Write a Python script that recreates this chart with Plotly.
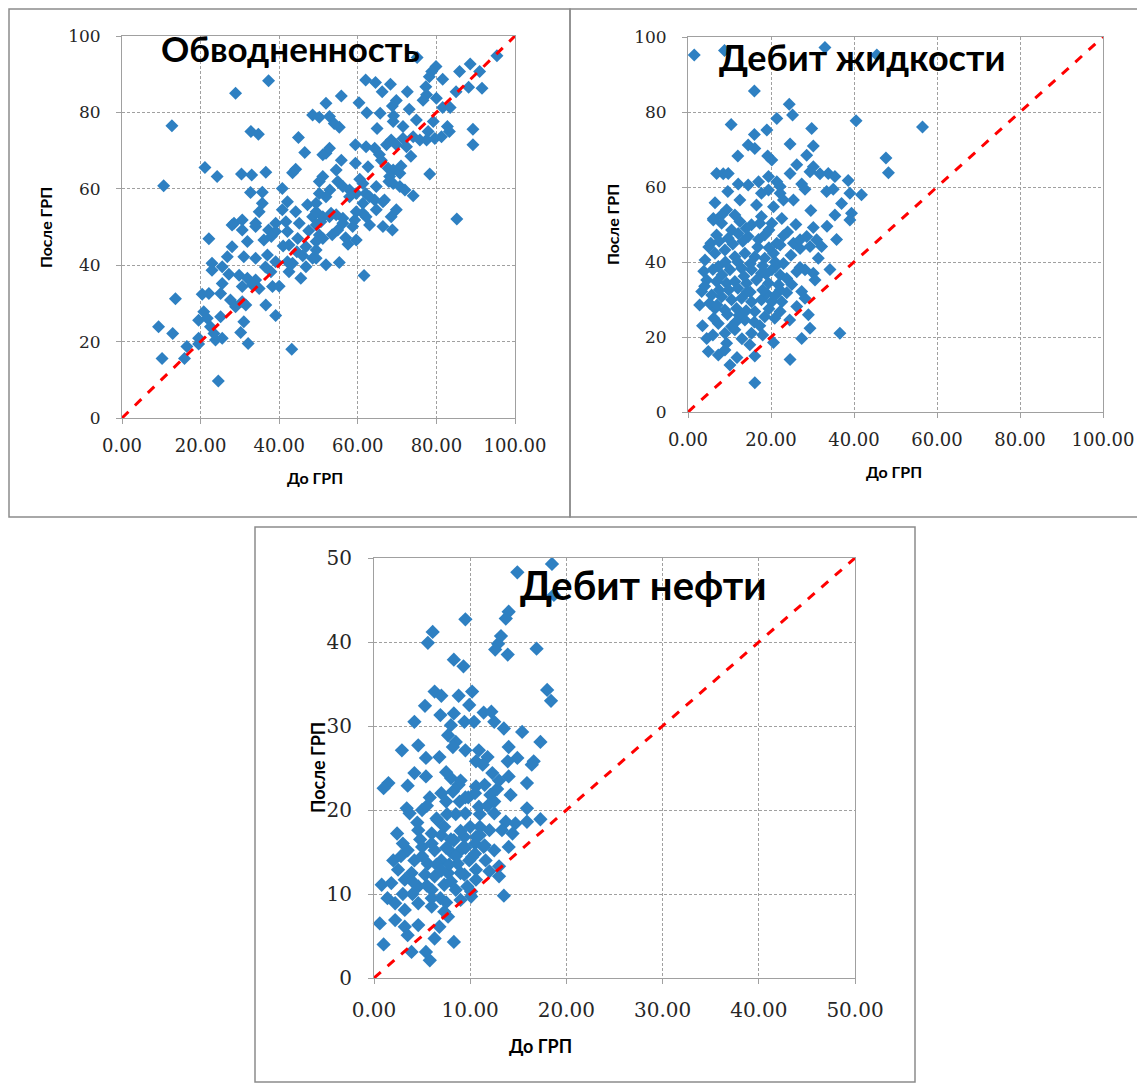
import plotly.graph_objects as go

# --- Обводненность: до / после ГРП ---
x1 = [37.3, 28.9, 12.7, 32.8, 34.7, 44.9, 46.5, 21.1, 24.2, 30.4, 33.0, 36.6, 43.4, 44.2, 10.6, 40.8, 32.7, 35.7, 48.5, 50.2,
      28.5, 30.6, 34.0, 34.9, 35.7, 42.1, 40.8, 44.2, 47.2, 39.1, 41.7, 45.1, 48.5, 49.4,
      95.4, 75.1, 88.6, 85.9, 91.0, 79.9, 78.8, 81.6, 78.2, 62.0, 64.5, 68.3, 88.2, 91.6, 85.0, 77.3, 77.5, 72.6, 66.2, 55.8,
      51.9, 60.3, 69.8, 76.6, 80.0, 81.6, 83.5, 68.8, 65.7, 69.1, 73.1, 62.3, 52.8, 54.0, 55.3, 64.9, 69.0, 71.5, 74.9, 79.2,
      82.8, 83.3, 77.9, 89.3, 89.3,
      74.1, 75.8, 77.5, 79.6, 81.3, 71.5, 68.5, 67.3, 69.8, 72.4, 62.1, 64.3, 59.4, 51.9, 51.1, 52.8, 66.0, 62.6, 59.4, 55.8,
      54.5, 51.1, 50.2, 52.9, 54.9, 56.2, 57.9, 59.6, 61.3, 67.7, 69.0, 70.7, 68.1, 69.0, 70.7, 72.0, 74.1, 78.3, 67.9, 64.7,
      64.3, 66.4, 69.8, 68.5, 61.3, 59.2, 56.2, 54.5, 53.2, 51.1, 49.4, 57.9, 62.0, 63.0, 85.2,
      50.2, 51.9, 49.4, 61.3, 59.6, 64.7, 66.8, 62.1, 56.2, 52.8, 50.6, 58.7, 66.4,
      50.2, 51.1, 54.9, 56.9, 59.6, 63.0, 68.8, 49.4, 49.4, 51.9, 55.3, 61.6,
      22.1, 28.0, 30.6, 34.0, 37.3, 28.0, 31.9, 36.1, 39.1, 42.1, 44.7, 42.5, 46.8, 49.4, 26.8, 31.0, 34.0, 37.0, 39.1, 22.9,
      22.9, 25.5, 27.2, 29.8, 31.9, 34.0, 37.9, 42.1, 43.4, 42.5, 46.8, 45.5, 48.5, 30.6, 33.2, 34.9, 38.3, 40.0, 25.5, 13.6,
      20.4, 22.1, 25.1, 27.6, 30.6, 31.5, 28.9, 36.6, 39.1, 20.8, 19.5, 21.7, 25.1, 31.0, 22.5, 30.2, 9.3, 12.9, 19.5, 23.8,
      25.5, 23.4, 16.5, 19.5, 10.2, 15.9, 32.1, 43.2, 24.5,
      41.0, 44.5, 47.5, 38.0, 36.5, 46.0, 53.5, 57.5, 60.5, 65.5, 71.0, 73.5]
y1 = [88.3, 85.0, 76.5, 75.0, 74.3, 73.4, 69.5, 65.6, 63.2, 63.9, 63.6, 64.3, 64.2, 65.1, 60.8, 60.1, 59.0, 59.1, 79.3, 78.7,
      51.0, 51.8, 51.0, 54.0, 56.2, 56.6, 54.5, 54.0, 55.8, 51.0, 51.4, 51.0, 52.7, 50.5,
      94.8, 94.4, 92.7, 90.7, 90.7, 92.0, 90.7, 88.7, 89.3, 88.5, 87.8, 87.4, 86.6, 86.3, 85.4, 86.7, 84.6, 85.4, 85.4, 84.3,
      82.4, 82.5, 83.1, 83.2, 83.7, 81.3, 81.3, 81.7, 79.8, 79.1, 80.8, 79.9, 78.9, 77.1, 76.1, 75.8, 77.6, 76.3, 78.0, 77.6,
      76.3, 75.0, 75.0, 75.6, 71.5,
      73.6, 72.8, 72.8, 73.2, 73.6, 73.2, 72.8, 71.5, 71.5, 71.0, 71.0, 70.6, 71.5, 69.3, 68.9, 70.6, 67.5, 65.8, 66.7, 67.5,
      64.9, 63.2, 61.9, 59.7, 61.9, 60.6, 59.7, 58.8, 61.4, 65.4, 64.9, 64.1, 63.2, 61.4, 60.6, 59.7, 58.2, 63.9, 61.9, 60.6,
      57.1, 56.6, 54.5, 52.7, 53.6, 51.8, 52.3, 53.2, 53.6, 52.7, 54.0, 57.9, 58.8, 57.9, 52.1,
      58.8, 57.9, 56.2, 56.2, 54.0, 54.5, 57.1, 52.7, 51.0, 52.7, 51.4, 50.1, 50.1,
      47.9, 47.0, 49.2, 47.2, 46.6, 50.5, 49.2, 44.0, 41.8, 40.1, 40.7, 37.3,
      46.9, 44.8, 49.2, 50.1, 49.2, 50.5, 46.2, 46.6, 48.8, 48.8, 47.0, 45.3, 44.8, 46.2, 42.2, 42.2, 41.8, 42.7, 40.9, 40.5,
      38.7, 39.6, 37.6, 37.4, 36.6, 36.1, 38.3, 40.9, 40.5, 38.3, 39.6, 36.6, 41.8, 34.4, 34.8, 33.9, 34.4, 34.5, 35.2, 31.2,
      32.4, 32.6, 32.6, 30.9, 30.4, 29.6, 29.1, 29.6, 26.8, 27.8, 25.6, 26.1, 26.5, 25.2, 23.9, 22.4, 23.9, 22.1, 20.9, 20.4,
      20.9, 22.1, 18.7, 19.4, 15.6, 15.6, 19.5, 18.0, 9.7,
      45.0, 43.5, 49.0, 47.5, 39.5, 42.5, 48.0, 45.5, 62.5, 69.0, 66.0, 68.5]

# --- Дебит жидкости ---
x2 = [1.5, 8.8, 16.0, 10.4, 21.4, 19.0, 16.0, 14.5, 16.1, 12.0, 19.2, 20.2, 6.9, 8.5, 9.7, 19.4, 21.4, 12.1, 14.5, 17.0,
      9.6, 12.5, 17.7, 19.4, 22.2, 6.5, 9.3, 11.3, 16.5, 20.6, 6.1, 8.1, 17.7, 22.6,
      33.0, 45.5, 24.4, 25.2, 40.5, 29.8, 24.6, 30.2, 28.6, 56.5, 26.2, 30.2, 29.4, 24.6, 31.8, 33.8, 35.4, 38.6, 47.7, 48.3,
      27.4, 28.2, 33.4, 35.0, 39.0, 41.8, 22.2, 23.0, 25.4, 37.0, 39.4, 29.6, 35.4,
      6.1, 8.1, 12.5, 15.3, 17.3, 20.2, 6.9, 9.7, 12.1, 14.5, 18.5, 21.4, 4.1, 6.5, 8.9, 11.3, 13.7, 16.1, 18.5, 20.6,
      7.3, 10.1, 12.9, 15.3, 17.7, 20.2, 4.5, 6.9, 9.3, 11.3, 14.1, 16.5, 19.4, 21.8, 3.3, 5.7, 8.1, 10.5, 12.9, 15.3,
      17.7, 20.2, 6.5, 8.9, 11.7, 16.1, 18.5, 20.9, 7.3, 10.5, 13.7, 8.9, 11.3, 15.3, 4.5, 9.3, 14.9, 20.6, 4.9, 7.3,
      8.9, 16.1, 10.1, 16.1,
      30.2, 39.0, 25.4, 27.0, 28.6, 31.0, 32.2, 27.0, 29.4, 35.8, 22.2, 31.4, 23.0, 26.2, 28.2, 30.2, 34.2, 22.2, 23.8, 30.6,
      22.2, 23.8, 27.4, 28.2, 22.6, 26.2, 29.0, 22.2, 29.4, 36.6, 27.4, 24.6,
      5.5, 10.8, 13.2, 16.8, 19.5, 3.8, 8.2, 13.5, 18.8, 5.2, 9.8, 14.2, 19.0, 12.3, 6.2, 17.3, 2.8, 24.0, 26.0, 33.5,
      21.0, 24.8, 13.0, 11.8, 18.0, 3.5, 6.0,
      5.0, 7.5, 10.5, 14.0, 17.0, 19.5, 23.0, 6.0, 9.0, 12.0, 15.0, 18.0, 21.0, 4.0, 7.5, 12.0, 15.0, 18.0, 21.0, 9.5,
      14.0, 19.5, 25.0, 27.0, 7.0, 11.5, 16.0, 24.5]
y2 = [95.2, 96.4, 85.6, 76.7, 78.3, 75.2, 74.0, 71.2, 70.3, 68.3, 68.3, 67.2, 63.6, 63.5, 63.6, 62.8, 61.4, 60.8, 60.5, 61.4,
      58.8, 56.5, 58.3, 59.2, 60.1, 55.8, 53.9, 52.5, 55.2, 54.7, 51.6, 52.5, 52.1, 51.6,
      97.2, 95.2, 82.1, 79.2, 77.7, 75.6, 71.5, 70.9, 68.5, 76.0, 65.9, 65.4, 64.1, 63.6, 63.5, 63.6, 62.8, 61.7, 67.7, 63.8,
      60.8, 59.4, 58.8, 59.4, 58.3, 57.9, 58.3, 56.5, 56.5, 55.6, 53.0, 53.7, 52.5,
      51.2, 50.3, 50.8, 49.9, 50.3, 50.3, 47.2, 46.3, 47.6, 46.8, 47.2, 45.0, 40.5, 42.3, 43.2, 41.4, 42.3, 41.4, 41.0, 42.3,
      38.8, 37.9, 38.3, 37.9, 37.0, 37.9, 35.2, 34.8, 34.3, 34.8, 34.3, 35.2, 34.3, 33.9, 32.1, 31.2, 30.7, 29.9, 30.3, 29.4,
      29.9, 29.4, 27.6, 27.2, 27.6, 26.8, 25.4, 25.0, 23.6, 22.8, 24.5, 21.0, 21.9, 21.0, 19.6, 18.3, 17.9, 18.5, 16.1, 15.2,
      16.5, 14.9, 12.5, 7.8,
      49.2, 51.2, 45.0, 45.9, 46.8, 45.9, 44.1, 43.6, 44.1, 46.0, 44.5, 41.0, 39.6, 37.4, 37.9, 37.0, 38.0, 36.5, 35.6, 35.2,
      32.5, 31.8, 32.1, 30.3, 29.4, 28.1, 25.9, 26.8, 22.3, 21.0, 19.6, 14.0,
      45.0, 44.8, 45.5, 44.0, 43.8, 37.5, 36.5, 36.2, 36.8, 29.0, 32.5, 32.0, 31.5, 25.8, 25.0, 23.0, 28.5, 48.0, 50.0, 49.5,
      38.7, 41.8, 19.5, 14.5, 20.5, 23.0, 20.5,
      44.0, 45.5, 48.5, 49.0, 46.0, 48.5, 47.0, 38.0, 40.0, 40.0, 39.5, 39.0, 40.0, 33.5, 32.5, 33.0, 32.0, 32.5, 31.0, 26.0,
      27.0, 27.5, 34.0, 38.5, 28.5, 24.0, 24.0, 24.5]

# --- Дебит нефти ---
x3 = [9.5, 6.1, 5.6, 8.3, 9.3, 6.3, 7.0, 8.8, 5.3, 6.9, 8.3, 4.2, 8.0, 9.4, 7.7, 8.5, 9.5, 2.9, 4.6, 5.4,
      6.8, 8.2,
      18.5, 14.9, 18.7, 14.0, 13.7, 13.2, 12.9, 12.6, 13.9, 16.9, 18.0, 18.4, 10.2, 9.9, 11.4, 12.2, 10.4, 12.5, 13.5, 15.4,
      17.3, 14.0, 10.9, 11.8, 14.9, 16.6, 10.6,
      4.2, 5.4, 1.5, 3.5, 1.0, 8.0, 7.0, 8.2, 8.9, 3.4, 3.7, 9.5, 2.4, 4.6, 6.0, 7.3, 8.3, 9.4, 3.5, 5.0,
      6.3, 8.0, 9.0, 4.2, 5.6, 7.0, 8.7, 9.9, 2.5, 3.9, 5.3, 6.3, 7.7, 9.4, 0.8, 1.8, 3.2, 4.6, 6.0, 7.3,
      8.5, 9.7, 2.2, 3.2, 4.6, 6.0, 7.3, 0.6, 2.2, 3.2, 4.6, 3.5, 6.3, 8.3, 1.0, 3.9, 5.4, 5.8, 6.8, 7.7,
      9.0, 10.1,
      11.3, 13.9, 16.4, 12.3, 14.0, 15.9, 10.6, 12.1, 14.2, 15.9, 10.9, 12.5, 17.3, 15.9, 13.7, 14.7, 12.0, 13.3, 14.4, 10.6,
      11.4, 12.5, 14.0, 10.2, 11.6, 13.0, 10.6, 12.0, 13.0, 10.6, 10.1, 13.5,
      4.8, 6.6, 7.6, 5.8, 8.8, 9.8, 11.0, 2.8, 4.0, 6.9, 5.0, 7.8, 1.4, 2.0, 11.8, 12.8, 9.2, 10.5,
      3.0, 4.5, 5.5, 6.5, 7.5, 8.5, 9.5, 10.5, 11.5, 6.0, 7.0, 8.0, 9.0, 10.0, 11.0, 5.0, 6.5, 7.5, 8.5, 9.5,
      10.5, 11.5, 4.0, 5.5, 7.0, 8.0, 9.0, 6.0, 7.5, 3.0, 12.5, 13.0, 11.0, 9.0, 7.5]
y3 = [42.7, 41.2, 39.9, 37.9, 37.1, 34.1, 33.6, 33.6, 32.4, 31.3, 31.5, 30.5, 30.1, 30.5, 28.9, 28.1, 27.1, 27.1, 27.7, 26.2,
      26.3, 27.5,
      49.3, 48.3, 45.6, 43.6, 42.8, 40.7, 39.8, 39.1, 38.5, 39.2, 34.3, 33.0, 34.1, 32.5, 31.6, 31.7, 30.5, 30.5, 29.7, 29.3,
      28.1, 27.5, 27.1, 26.3, 26.2, 25.8, 25.8,
      24.4, 24.0, 23.2, 22.9, 22.6, 23.8, 22.0, 22.2, 21.0, 20.2, 19.6, 19.6, 17.2, 17.6, 17.2, 18.0, 16.4, 16.8, 15.2, 15.6,
      15.2, 15.0, 15.2, 14.0, 13.6, 14.0, 13.6, 14.0, 12.9, 12.5, 12.3, 12.1, 12.5, 12.3, 11.1, 11.3, 11.7, 10.9, 10.5, 11.1,
      10.5, 10.9, 8.9, 8.1, 8.9, 8.5, 7.9, 6.5, 6.9, 6.1, 6.3, 5.1, 4.7, 4.3, 4.0, 3.1, 3.1, 2.1, 6.1, 7.3,
      9.3, 10.3,
      25.4, 25.8, 25.4, 24.4, 24.0, 23.2, 22.8, 21.8, 21.8, 20.2, 20.4, 19.6, 18.9, 18.6, 18.6, 18.4, 17.6, 17.6, 17.2, 16.8,
      15.6, 15.2, 15.6, 14.4, 14.0, 13.3, 12.9, 12.7, 12.1, 11.7, 9.7, 9.8,
      16.5, 18.8, 19.5, 21.5, 23.0, 21.5, 18.0, 14.5, 10.0, 9.5, 20.0, 13.5, 9.5, 14.0, 20.5, 22.5, 15.5, 16.0,
      16.0, 18.5, 20.5, 19.0, 21.0, 19.5, 21.5, 22.0, 23.0, 16.0, 17.0, 16.5, 17.5, 18.0, 17.0, 14.5, 13.5, 15.5, 14.5, 15.5,
      14.8, 15.8, 11.5, 11.0, 12.8, 11.5, 12.5, 9.5, 9.0, 10.0, 21.0, 23.5, 19.5, 23.5, 24.5]

diag1 = [0, 100]
diag3 = [0, 50]

blue = "#2E80C2"
red = "#FF0000"
grey = "#A0A0A0"

fig = go.Figure()
for xs, ys, xa, ya, sz in [(x1, y1, "x", "y", 10), (x2, y2, "x2", "y2", 10), (x3, y3, "x3", "y3", 11)]:
    fig.add_trace(go.Scatter(x=xs, y=ys, mode="markers", xaxis=xa, yaxis=ya, cliponaxis=False,
                             marker=dict(symbol="diamond", size=sz, color=blue)))
fig.add_trace(go.Scatter(x=diag1, y=diag1, mode="lines", xaxis="x", yaxis="y",
                         line=dict(color=red, width=3, dash="dash")))
fig.add_trace(go.Scatter(x=diag1, y=diag1, mode="lines", xaxis="x2", yaxis="y2",
                         line=dict(color=red, width=3, dash="dash")))
fig.add_trace(go.Scatter(x=diag3, y=diag3, mode="lines", xaxis="x3", yaxis="y3",
                         line=dict(color=red, width=3, dash="dash")))


def axis(domain, rng, dtick, fmt, size, anchor, standoff):
    return dict(domain=domain, range=rng, dtick=dtick, tick0=0, tickformat=fmt, anchor=anchor,
                automargin=False,
                showgrid=True, gridcolor=grey, griddash="3px,2px", gridwidth=1,
                showline=True, linecolor=grey, linewidth=1, mirror=True, zeroline=False,
                ticks="outside", ticklen=5, tickcolor=grey, ticklabelstandoff=standoff,
                tickfont=dict(family="DejaVu Serif", size=size, color="#262626"))


# page body has an 8px margin, so the figure is placed 8px in from the window edge
OFF = 8
W, H = 1145 - OFF, 1088 - OFF


def fx(p):
    return (p - OFF) / W


def fy(p):
    return 1 - (p - OFF) / H


def px(a, b):
    return [fx(a), fx(b)]


def py(top, bottom):
    return [fy(bottom), fy(top)]


fig.update_layout(
    width=W, height=H, margin=dict(l=0, r=0, t=0, b=0, autoexpand=False),
    paper_bgcolor="white", plot_bgcolor="white", showlegend=False,
    xaxis=axis(px(122, 515), [0, 100], 20, ".2f", 18, "y", 6),
    yaxis=axis(py(36, 418), [0, 100], 20, "d", 17, "x", 12),
    xaxis2=axis(px(688, 1103), [0, 100], 20, ".2f", 18, "y2", 6),
    yaxis2=axis(py(37, 412), [0, 100], 20, "d", 17, "x2", 12),
    xaxis3=axis(px(374, 855), [0, 50], 10, ".2f", 20, "y3", 9),
    yaxis3=axis(py(558, 978), [0, 50], 10, "d", 20, "x3", 12),
)

box = dict(type="rect", xref="paper", yref="paper", line=dict(color="#8C8C8C", width=1.5), fillcolor="rgba(0,0,0,0)")
fig.add_shape(x0=fx(9), x1=fx(570), y0=fy(517), y1=fy(9), **box)
fig.add_shape(x0=fx(570), x1=fx(1139), y0=fy(517), y1=fy(9), **box)
fig.add_shape(x0=fx(255), x1=fx(915), y0=fy(1082), y1=fy(527), **box)

sans = "Lato"
notes = [
    ("<b>Обводненность</b>", 290, 48, 35, 0),
    ("<b>Дебит жидкости</b>", 862, 57, 36, 0),
    ("<b>Дебит нефти</b>", 643, 585, 40, 0),
    ("<b>До ГРП</b>", 315, 478, 16, 0),
    ("<b>До ГРП</b>", 894, 472, 16, 0),
    ("<b>До ГРП</b>", 540, 1046, 18, 0),
    ("<b>После ГРП</b>", 45, 228, 16, -90),
    ("<b>После ГРП</b>", 612, 225, 16, -90),
    ("<b>После ГРП</b>", 318, 768, 18, -90),
]
for text, ax_, ay_, size, ang in notes:
    fig.add_annotation(text=text, x=fx(ax_), y=fy(ay_), xref="paper", yref="paper",
                       xanchor="center", yanchor="middle", showarrow=False, textangle=ang,
                       font=dict(family=sans, size=size, color="black"))

fig.write_html("out.html")
